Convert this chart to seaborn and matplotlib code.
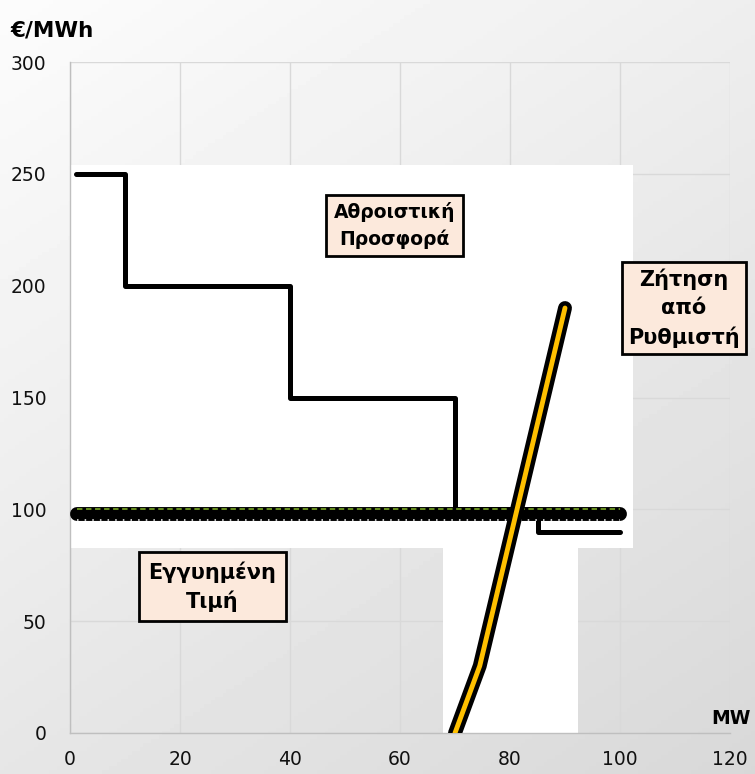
import matplotlib.pyplot as plt
import numpy as np
import pandas as pd
import seaborn as sns
from matplotlib.patches import Rectangle

# Cumulative offer (step curve, value holds until next point)
supply_mw = [1, 10, 40, 70, 85, 100]
supply_price = [250, 200, 150, 100, 90, 90]

# Demand from the regulator
demand_mw = [70, 74.5, 90]
demand_price = [0, 30, 190]

# Guaranteed price
guar_mw = [1.3, 100]
guar_price = [98, 98]
guar_ref_price = [100, 100]

x_ticks = [0, 20, 40, 60, 80, 100, 120]
y_ticks = [0, 50, 100, 150, 200, 250, 300]

supply_df = pd.DataFrame({"MW": supply_mw, "price": supply_price})
demand_df = pd.DataFrame({"MW": demand_mw, "price": demand_price})
guar_df = pd.DataFrame({"MW": guar_mw, "price": guar_price, "ref": guar_ref_price})

sns.set_theme(style="white")
plt.rcParams["font.family"] = ["DejaVu Sans"]
plt.rcParams["text.color"] = "black"

fig = plt.figure(figsize=(7.55, 7.74), dpi=100)

# slide background: soft diagonal grey gradient
bg = fig.add_axes([0, 0, 1, 1], zorder=-5)
gx, gy = np.meshgrid(np.linspace(0, 1, 200), np.linspace(0, 1, 200))
shade = (252 - 14 * gx - 22 * gy) / 255
bg.imshow(shade, cmap="gray", vmin=0, vmax=1, aspect="auto", extent=[0, 1, 1, 0])
bg.set_xlim(0, 1)
bg.set_ylim(1, 0)
bg.axis("off")

ax = fig.add_axes([70 / 755, 41 / 774, 660 / 755, 671 / 774])
ax.set_facecolor("none")
ax.set_xlim(0, 120)
ax.set_ylim(0, 300)
ax.set_xticks(x_ticks)
ax.set_yticks(y_ticks)
ax.grid(True, color="#d9d9d9", linewidth=1)
for side in ["top", "right"]:
    ax.spines[side].set_visible(False)
for side in ["left", "bottom"]:
    ax.spines[side].set_color("#bfbfbf")
    ax.spines[side].set_linewidth(1)
ax.tick_params(axis="both", length=0, labelsize=13.5, colors="#111111")
ax.tick_params(axis="y", pad=17)
ax.tick_params(axis="x", pad=12)

# white cover boxes from the slide
for x0, x1, y0, y1 in [(0, 102.3, 82.7, 254), (67.8, 92.3, 0, 82.7)]:
    ax.add_patch(Rectangle((x0, y0), x1 - x0, y1 - y0, facecolor="white", edgecolor="none", zorder=1.5))

# guaranteed price band
sns.lineplot(data=guar_df, x="MW", y="price", ax=ax, color="black", linewidth=10,
             solid_capstyle="round", zorder=3)
sns.lineplot(data=guar_df, x="MW", y=guar_df["price"] - 2.6, ax=ax, color="white",
             linewidth=1.1, linestyle=(0, (1, 4)), zorder=3.1)
sns.lineplot(data=guar_df, x="MW", y="ref", ax=ax, color="#6f9a22", linewidth=1.3,
             linestyle=(0, (3, 2)), zorder=3.2)

# cumulative offer
sns.lineplot(data=supply_df, x="MW", y="price", ax=ax, color="black", linewidth=3.6,
             drawstyle="steps-post", solid_capstyle="round", solid_joinstyle="round", zorder=2.5)

# demand from regulator
sns.lineplot(data=demand_df, x="MW", y="price", ax=ax, color="black", linewidth=10,
             solid_capstyle="round", solid_joinstyle="round", zorder=4)
sns.lineplot(data=demand_df, x="MW", y="price", ax=ax, color="#ffc000", linewidth=3.5,
             solid_capstyle="round", solid_joinstyle="round", zorder=4.1)

ax.set_xlabel("")
ax.set_ylabel("")

box = dict(boxstyle="square,pad=0.4", facecolor="#fce9dc", edgecolor="black", linewidth=2)
ax.text(59, 227, "Αθροιστική\nΠροσφορά", ha="center", va="center", fontsize=13.5,
        fontweight="bold", bbox=box, zorder=6, linespacing=1.45)
ax.text(111.6, 190, "Ζήτηση\nαπό\nΡυθμιστή", ha="center", va="center", fontsize=15,
        fontweight="bold", bbox=dict(box, boxstyle="square,pad=0.3"), zorder=6,
        clip_on=False, linespacing=1.5)
ax.text(25.9, 65.4, "Εγγυημένη\nΤιμή", ha="center", va="center", fontsize=15,
        fontweight="bold", bbox=dict(box, boxstyle="square,pad=0.45"), zorder=6, linespacing=1.4)

fig.text(10 / 755, 1 - 31 / 774, "€/MWh", ha="left", va="center", fontsize=15.5, fontweight="bold")
fig.text(751 / 755, 1 - 718 / 774, "MW", ha="right", va="center", fontsize=13.5, fontweight="bold")

fig.savefig("out.png", dpi=100)
